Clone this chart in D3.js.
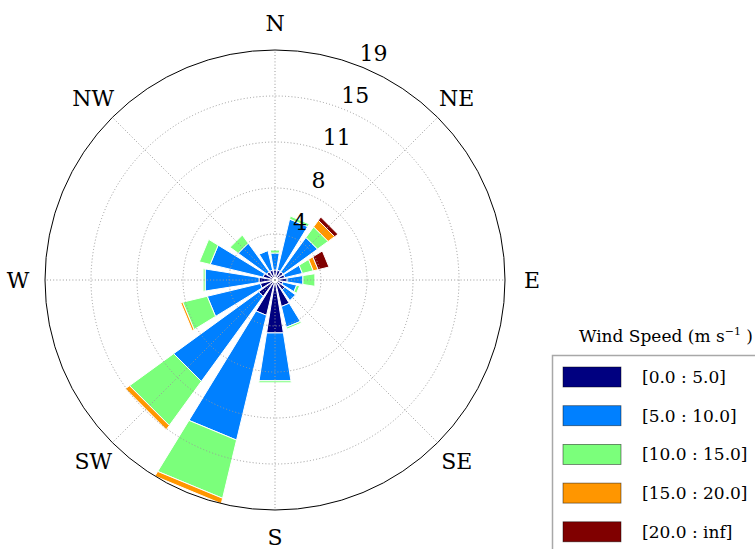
<!DOCTYPE html>
<html>
<head>
<meta charset="utf-8">
<script src="https://cdn.jsdelivr.net/npm/d3@7"></script>
<style>
  body { margin: 0; background: #fff; }
  svg { display: block; }
  text { font-family: "DejaVu Serif", "Liberation Serif", serif; fill: #000; }
</style>
</head>
<body>
<svg id="chart" width="755" height="549"></svg>
<script>
// 16 direction sectors, clockwise from north
const directions = ["N","NNE","NE","ENE","E","ESE","SE","SSE","S","SSW","SW","WSW","W","WNW","NW","NNW"];
const compassLabels = ["N","NE","E","SE","S","SW","W","NW"];
const speedBins = ["[0.0 : 5.0]","[5.0 : 10.0]","[10.0 : 15.0]","[15.0 : 20.0]","[20.0 : inf]"];
const binColors = ["#000080","#0080ff","#7bff7b","#ff9600","#800000"];

// frequency (%) of each speed bin, per direction
const speed0to5   = [0.83,0.83,0.83,0.83,1.00,0.66,1.00,2.23,4.38,2.97,1.65,1.24,1.32,1.00,0.83,0.83];
const speed5to10  = [1.40,4.29,3.47,1.48,1.31,1.16,1.07,1.74,3.96,10.49,8.59,4.46,4.46,4.45,2.89,1.65];
const speed10to15 = [0.25,0.25,1.07,0.91,0.99,0.25,0.00,0.16,0.17,4.89,4.46,2.06,0.17,0.91,0.82,0.04];
const speed15to20 = [0.00,0.00,0.66,0.41,0.00,0.00,0.00,0.00,0.00,0.45,0.42,0.17,0.00,0.00,0.00,0.00];
const speed20up   = [0.00,0.00,0.33,0.91,0.00,0.00,0.00,0.00,0.00,0.00,0.00,0.00,0.00,0.00,0.00,0.00];

// radial grid rings and their labels
const ringValues = [3.76, 7.52, 11.28, 15.04, 18.8];
const ringLabels = ["4","8","11","15","19"];

const series = [speed0to5, speed5to10, speed10to15, speed15to20, speed20up];

const svg = d3.select("#chart");
const cx = 275, cy = 280, R = 230;
const g = svg.append("g").attr("transform", `translate(${cx},${cy})`);

const totals = directions.map((d, i) => d3.sum(series, s => s[i]));
const rMax = d3.max(totals);
const r = d3.scaleLinear().domain([0, rMax]).range([0, R]);
const angle = d3.scaleLinear().domain([0, directions.length]).range([0, 2 * Math.PI]);
const halfOpen = angle(1) * 0.8 / 2;

const pt = (a, rad) => [rad * Math.sin(a), -rad * Math.cos(a)];

// stacked sectors
const stack = d3.stack().keys(d3.range(series.length)).value((d, k) => series[k][d]);
const layers = stack(d3.range(directions.length));

layers.forEach((layer, k) => {
  g.append("g").selectAll("path")
    .data(layer.map((seg, i) => ({ i, y0: seg[0], y1: seg[1] })).filter(d => d.y1 - d.y0 > 0))
    .join("path")
    .attr("d", d => {
      const a = angle(d.i);
      const a0 = a - halfOpen, a1 = a + halfOpen;
      return d3.line()([pt(a0, r(d.y0)), pt(a0, r(d.y1)), pt(a1, r(d.y1)), pt(a1, r(d.y0))]) + "Z";
    })
    .attr("fill", binColors[k])
    .attr("stroke", "#fff")
    .attr("stroke-width", 1)
    .attr("stroke-linejoin", "miter");
});

g.append("circle").attr("r", 2.5).attr("fill", "#fff");

// dotted grid over the bars
const grid = g.append("g").attr("fill", "none").attr("stroke", "#9a9a9a")
  .attr("stroke-width", 1).attr("stroke-dasharray", "1,2.2");
grid.selectAll("circle").data(ringValues.slice(0, -1)).join("circle").attr("r", d => r(d));
grid.selectAll("line").data(compassLabels).join("line")
  .attr("x1", 0).attr("y1", 0)
  .attr("x2", (d, i) => pt(i * Math.PI / 4, R)[0])
  .attr("y2", (d, i) => pt(i * Math.PI / 4, R)[1]);

g.append("circle").attr("r", R).attr("fill", "none").attr("stroke", "#000").attr("stroke-width", 1);

// compass labels
g.selectAll("text.dir").data(compassLabels).join("text").attr("class", "dir")
  .attr("x", (d, i) => pt(i * Math.PI / 4, 257)[0])
  .attr("y", (d, i) => pt(i * Math.PI / 4, 257)[1])
  .attr("text-anchor", "middle").attr("dominant-baseline", "central")
  .attr("font-size", 22).text(d => d);

// ring labels
const labelAngle = 23.5 * Math.PI / 180;
g.selectAll("text.ring").data(ringValues).join("text").attr("class", "ring")
  .attr("x", d => pt(labelAngle, r(d) + 17)[0])
  .attr("y", d => pt(labelAngle, r(d) + 17)[1])
  .attr("text-anchor", "middle").attr("dominant-baseline", "central")
  .attr("font-size", 22).text((d, i) => ringLabels[i]);

// legend
const lg = svg.append("g");
const title = lg.append("text").attr("x", 579).attr("y", 342).attr("font-size", 17);
title.append("tspan").text("Wind Speed (m s");
title.append("tspan").attr("font-size", 11).attr("dy", -7).text("\u22121");
title.append("tspan").attr("dy", 7).text(" )");

lg.append("rect").attr("x", 552.5).attr("y", 355.5).attr("width", 240).attr("height", 240)
  .attr("fill", "#fff").attr("stroke", "#a8a8a8").attr("stroke-width", 1.5);

const rowStep = 38.7;
speedBins.forEach((label, k) => {
  lg.append("rect").attr("x", 563).attr("y", 367 + k * rowStep).attr("width", 58).attr("height", 20)
    .attr("fill", binColors[k]).attr("stroke", "rgba(0,0,0,0.55)").attr("stroke-width", 0.8);
  lg.append("text").attr("x", 642).attr("y", 377 + k * rowStep)
    .attr("dominant-baseline", "central").attr("font-size", 17).text(label);
});
</script>
</body>
</html>
